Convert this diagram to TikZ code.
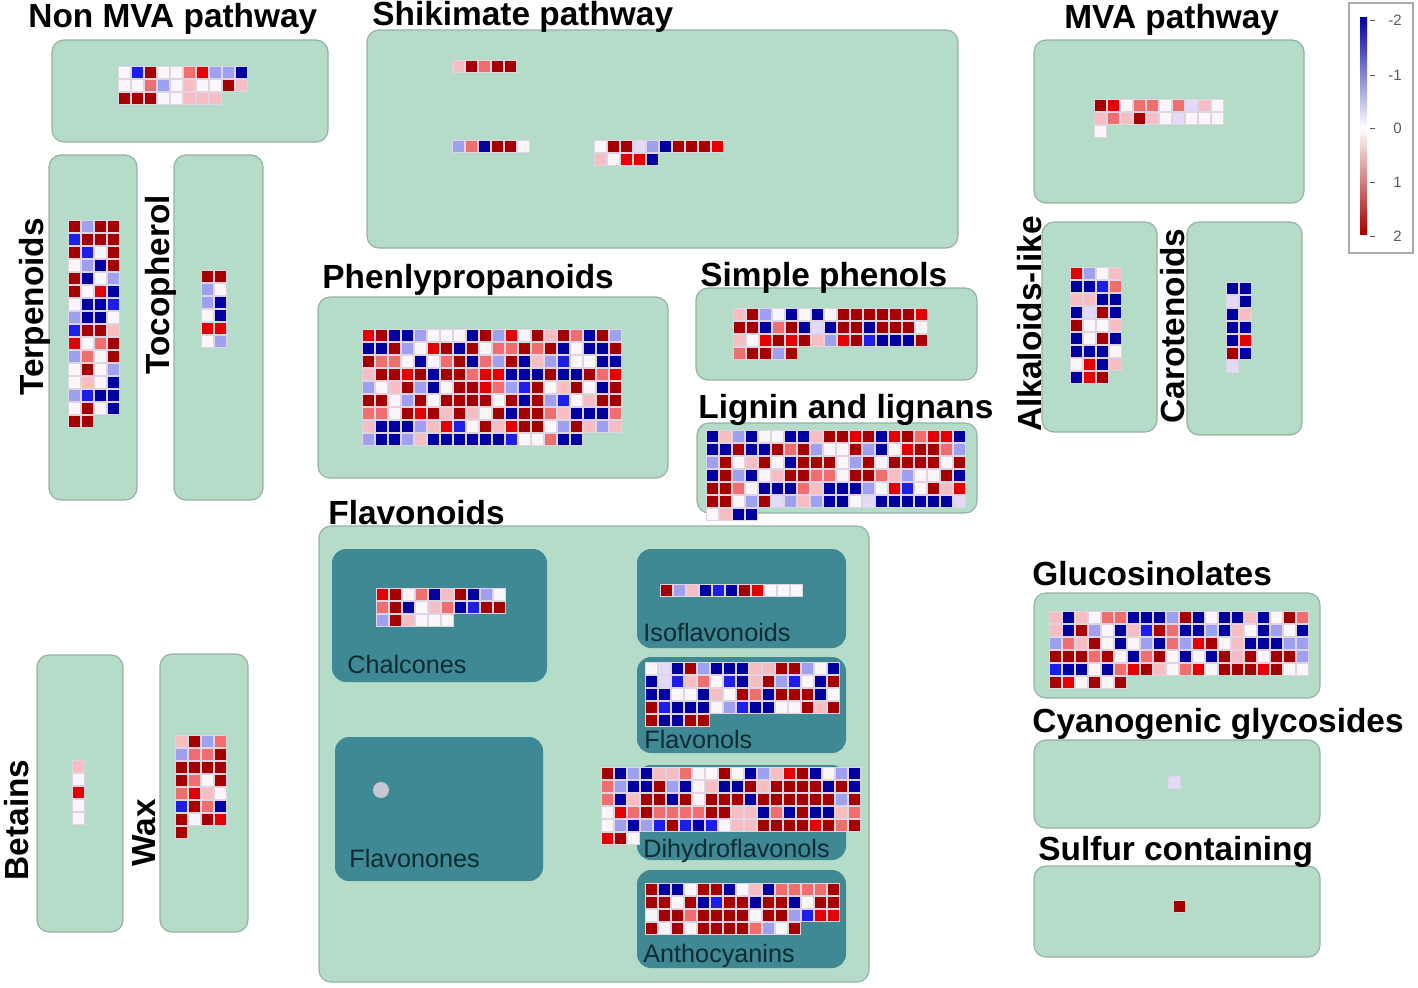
\documentclass[tikz,border=0pt]{standalone}
\usepackage{fontspec}
\setmainfont{Liberation Sans}
\usetikzlibrary{fit,positioning}

\definecolor{panelfill}{RGB}{181,220,200}
\definecolor{paneledge}{RGB}{150,178,162}
\definecolor{subfill}{RGB}{62,137,147}
\definecolor{subtext}{RGB}{14,42,50}
\definecolor{gridbg}{RGB}{222,212,226}
\definecolor{dotgray}{RGB}{200,200,210}
\definecolor{legendedge}{RGB}{170,170,170}
\definecolor{hD}{RGB}{165,0,0}
\definecolor{hR}{RGB}{228,0,0}
\definecolor{hr}{RGB}{240,110,110}
\definecolor{hp}{RGB}{246,190,195}
\definecolor{hw}{RGB}{250,246,250}
\definecolor{hv}{RGB}{226,218,246}
\definecolor{hl}{RGB}{160,160,240}
\definecolor{hb}{RGB}{30,30,235}
\definecolor{hB}{RGB}{0,0,160}

\newcommand{\headfont}{\fontsize{16.7}{18}\selectfont\bfseries}
\newcommand{\subfont}{\fontsize{12.6}{14}\selectfont}

% x, y of the top left corner, then the rows of cells
\newcommand{\heatmap}[3]{%
  \foreach \hrow [count=\j from 0] in {#3}{
    \foreach \hc [count=\i from 0] in \hrow{
      \fill[gridbg] ({#1+13*\i},{#2+13*\j}) rectangle +(13,13);
      \fill[h\hc] ({#1+13*\i+1},{#2+13*\j+1}) rectangle +(11,11);
    }
  }
}

\tikzset{
  panel/.style={draw=paneledge, fill=panelfill, line width=0.6pt, rounded corners=6pt, inner sep=0pt},
  subpanel/.style={fill=subfill, rounded corners=7pt, inner sep=0pt},
  headlabel/.style={font=\headfont, anchor=base west, inner sep=0pt},
  sidelabel/.style={font=\headfont, rotate=90, inner sep=0pt},
  sublabel/.style={font=\subfont, text=subtext, anchor=base west, inner sep=0pt},
  ticklabel/.style={font=\fontsize{7.5}{8}\selectfont, text=black!65, anchor=east, inner sep=0pt}
}

\begin{document}
\begin{tikzpicture}[x=0.5pt, y=-0.5pt]
  \useasboundingbox (0,0) rectangle (1418,987);

  \node[panel, fit={(52,40) (328,142)}] (nonmva) {};
  \node[panel, fit={(367,30) (958,248)}] (shikimate) {};
  \node[panel, fit={(1034,40) (1304,203)}] (mva) {};
  \node[panel, fit={(49,155) (137,500)}] (terpenoids) {};
  \node[panel, fit={(174,155) (263,500)}] (tocopherol) {};
  \node[panel, fit={(318,297) (668,478)}] (phenyl) {};
  \node[panel, fit={(696,288) (977,380)}] (phenols) {};
  \node[panel, fit={(697,423) (977,513)}] (lignin) {};
  \node[panel, fit={(1042,222) (1157,432)}] (alkaloids) {};
  \node[panel, fit={(1187,222) (1302,435)}] (carotenoids) {};
  \node[panel, fit={(319,526) (869,982)}] (flavonoids) {};
  \node[panel, fit={(1034,593) (1320,698)}] (gluco) {};
  \node[panel, fit={(1034,740) (1320,828)}] (cyano) {};
  \node[panel, fit={(1034,866) (1320,957)}] (sulfur) {};
  \node[panel, fit={(37,655) (123,932)}] (betains) {};
  \node[panel, fit={(160,654) (248,932)}] (wax) {};

  \node[subpanel, fit={(332,549) (547,682)}] (chalcones) {};
  \node[subpanel, fit={(335,737) (543,881)}] (flavonones) {};
  \node[subpanel, fit={(637,549) (846,648)}] (isoflav) {};
  \node[subpanel, fit={(637,657) (846,753)}] (flavonols) {};
  \node[subpanel, fit={(637,765) (846,860)}] (dihydro) {};
  \node[subpanel, fit={(637,870) (846,968)}] (antho) {};

  \node[headlabel] (nonmvaT) at (28,27) {Non MVA pathway};
  \node[headlabel] (shikimateT) at (372,25) {Shikimate pathway};
  \node[headlabel] (mvaT) at (1064,28) {MVA pathway};
  \node[headlabel] (phenylT) at (322,288) {Phenlypropanoids};
  \node[headlabel] (phenolsT) at (700,286) {Simple phenols};
  \node[headlabel] (ligninT) at (698,418) {Lignin and lignans};
  \node[headlabel] (flavonoidsT) at (328,524) {Flavonoids};
  \node[headlabel] (glucoT) at (1032,585) {Glucosinolates};
  \node[headlabel] (cyanoT) at (1032,732) {Cyanogenic glycosides};
  \node[headlabel] (sulfurT) at (1038,860) {Sulfur containing};
  \node[sidelabel] (terpenoidsT) at (35,307) {Terpenoids};
  \node[sidelabel] (tocopherolT) at (161,285) {Tocopherol};
  \node[sidelabel] (alkaloidsT) at (1030,324) {Alkaloids-like};
  \node[sidelabel] (carotenoidsT) at (1173,326) {Carotenoids};
  \node[sidelabel] (betainsT) at (17,820) {Betains};
  \node[sidelabel] (waxT) at (144,833) {Wax};

  \node[sublabel] (chalconesT) at (347,673) {Chalcones};
  \node[sublabel] (flavononesT) at (349,867) {Flavonones};
  \node[sublabel] (isoflavT) at (643,641) {Isoflavonoids};
  \node[sublabel] (flavonolsT) at (644,748) {Flavonols};
  \node[sublabel] (dihydroT) at (643,857) {Dihydroflavonols};
  \node[sublabel] (anthoT) at (643,962) {Anthocyanins};
  \node[circle, fill=dotgray, minimum size=8pt, inner sep=0pt] (flavdot) at (381,790) {};

  \heatmap{117.5}{66}{{w,b,D,w,w,r,R,l,l,B},{w,w,r,l,w,p,w,w,D,p},{D,D,D,w,w,p,p,p}}
  \heatmap{452}{60}{{p,D,r,D,D}}
  \heatmap{452}{140}{{l,r,B,D,D,w}}
  \heatmap{594}{140}{{w,D,D,v,l,B,D,D,D,R},{p,w,R,R,B}}
  \heatmap{1094}{99}{{D,R,w,r,r,w,r,v,p,w},{p,r,p,D,p,w,v,w,w,w},{w}}
  \heatmap{68}{220}{{D,l,D,D},{b,D,D,D},{D,b,w,D},{w,l,B,D},{D,B,w,l},{D,w,R,B},{w,B,B,b},{l,B,B,w},{b,D,D,p},{R,w,r,D},{l,r,w,D},{w,D,w,l},{w,p,w,B},{l,b,B,B},{w,D,w,B},{D,D}}
  \heatmap{201}{270}{{D,D},{l,w},{l,B},{w,B},{R,R},{w,l}}
  \heatmap{362}{329}{{R,D,B,B,l,w,w,w,B,D,l,R,w,D,p,D,r,B,D,l},{B,B,D,l,w,R,D,B,D,w,r,r,D,r,D,B,w,B,B,D},{D,r,r,w,B,w,r,D,B,r,l,D,B,p,l,b,w,w,B,B},{p,D,D,R,D,B,D,D,r,R,R,B,B,B,D,B,B,D,r,R},{l,w,p,D,l,B,w,D,D,R,r,l,b,D,w,p,D,w,B,D},{D,D,w,l,D,w,D,D,D,D,w,D,B,D,l,b,w,p,D,D},{r,r,w,D,R,D,p,D,p,w,D,B,D,D,r,p,B,B,B,r},{p,B,B,B,l,p,R,b,w,D,p,R,D,D,w,l,D,p,l,p},{l,B,B,l,p,B,B,B,B,B,B,b,w,w,r,B,B}}
  \heatmap{733}{308}{{p,D,l,w,B,w,B,w,D,D,D,D,D,D,R},{D,D,B,r,D,B,v,B,D,D,B,D,D,D,w},{p,w,R,D,R,D,p,l,R,D,b,B,B,B,D},{r,D,D,l,D}}
  \heatmap{706}{430}{{B,p,l,B,w,w,B,B,p,D,D,R,D,B,R,D,r,R,R,B},{B,B,D,B,B,D,r,D,l,w,w,D,l,B,w,R,D,D,r,l},{l,D,w,p,D,w,B,D,D,D,w,l,D,w,D,D,D,D,w,D},{B,D,l,B,w,p,D,D,r,r,w,D,D,r,p,l,w,w,D,B},{D,D,r,w,B,B,B,r,p,B,B,B,l,w,R,b,w,D,p,R},{D,D,w,l,D,v,l,p,l,B,B,w,v,B,B,B,B,B,B,v},{w,p,B,B}}
  \heatmap{1070}{267}{{R,l,w,p},{B,B,b,r},{p,p,B,B},{B,v,D,B},{D,w,w,p},{B,w,D,B},{B,B,B,w},{w,R,B,p},{B,R,D}}
  \heatmap{1226}{282}{{B,B},{v,B},{B,p},{B,B},{B,R},{D,B},{v}}
  \heatmap{72}{760}{{p},{w},{R},{w},{w}}
  \heatmap{175}{735}{{p,D,l,r},{l,r,r,D},{D,D,D,D},{D,r,w,D},{r,R,p,w},{b,D,r,B},{D,w,D,R},{D}}
  \heatmap{375.5}{587.5}{{R,D,w,r,B,p,D,B,l,w},{r,D,B,w,p,r,B,b,D,D},{l,D,p,w,w,w}}
  \heatmap{659.5}{583.5}{{D,l,p,B,b,B,D,R,w,w,w}}
  \heatmap{645}{662}{{w,v,B,D,l,B,B,B,p,p,D,D,l,w,B},{B,v,b,p,r,w,b,B,p,D,l,b,w,B,D},{B,B,w,w,B,p,w,D,r,B,D,D,D,B,w},{D,b,B,B,B,w,l,b,B,B,w,w,D,p,D},{D,B,B,D,D}}
  \heatmap{601}{767}{{D,B,l,B,p,p,r,w,w,D,w,B,l,p,R,D,B,w,l,B},{r,l,B,B,D,l,B,w,p,B,B,D,p,D,D,D,D,B,D,B},{r,B,p,D,D,B,D,w,D,D,D,B,D,D,D,D,D,D,l,D},{w,R,r,D,r,r,r,r,D,D,p,p,B,r,B,D,B,B,p,r},{w,l,B,l,b,D,b,B,b,w,p,p,D,D,D,D,R,D,r,D},{R,D,w}}
  \heatmap{645}{883}{{D,B,B,w,D,D,B,w,p,B,r,r,r,r,D},{D,D,w,D,B,b,D,D,B,D,D,B,w,D,D},{w,D,D,r,D,D,D,D,w,D,D,l,b,R,R},{D,w,D,w,D,D,D,D,r,l,w,D}}
  \heatmap{1049}{611}{{p,B,p,w,r,r,B,B,B,l,D,B,w,B,B,p,B,w,D,r},{p,B,D,l,w,B,p,b,D,r,B,B,l,B,p,w,B,l,w,B},{l,r,p,D,w,B,w,l,B,r,l,R,D,w,p,B,B,B,l,l},{D,D,D,r,D,w,B,r,D,w,B,w,B,D,p,D,w,D,D,l},{b,B,B,w,B,r,R,D,p,w,r,R,w,D,D,D,R,D,w,w},{D,R,w,D,w,D}}
  \heatmap{1168}{776}{{v}}
  \heatmap{1173}{900}{{D}}

  \node[draw=legendedge, fill=white, line width=0.6pt, fit={(1349,3) (1413,253)}, inner sep=0pt] (legend) {};
  \shade[top color=hB, middle color={rgb,255:red,80;green,80;blue,240}, bottom color=white] (1360,17) rectangle (1367,128);
  \shade[top color=white, middle color=hr, bottom color=hD] (1360,128) rectangle (1367,234);
  \foreach \v/\yy [count=\k] in {-2/20,-1/75,0/128,1/182,2/236}{
    \draw[black!65, line width=0.5pt] (1370,\yy) -- (1375,\yy);
    \node[ticklabel] (tick\k) at (1402,\yy) {\v};
  }
\end{tikzpicture}
\end{document}
